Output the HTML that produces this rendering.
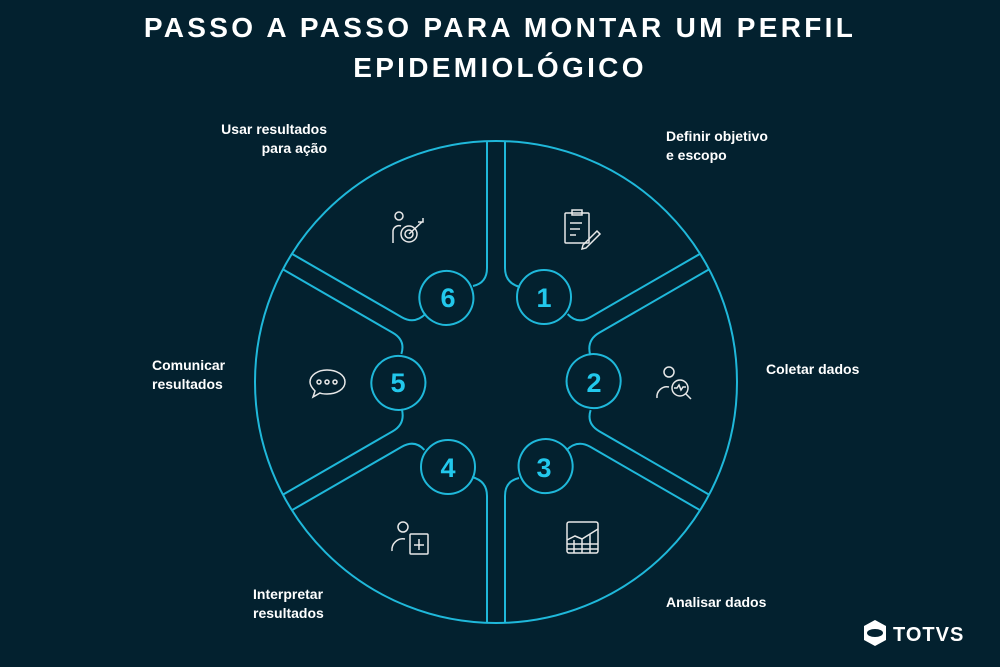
<!DOCTYPE html>
<html><head><meta charset="utf-8"><style>
body{margin:0;width:1000px;height:667px;background:#03212f;overflow:hidden;font-family:"Liberation Sans",sans-serif;position:relative}
.t{position:absolute;left:0;width:1000px;text-align:center;color:#fff;font-weight:bold;font-size:28px;letter-spacing:3.3px;line-height:40px;top:8px}
.l{position:absolute;color:#fff;font-weight:bold;font-size:14px;line-height:19px}
</style></head><body>
<div class="t">PASSO A PASSO PARA MONTAR UM PERFIL<br>EPIDEMIOLÓGICO</div>
<div class="l" style="left:200px;top:120px;width:127px;text-align:right">Usar resultados<br>para ação</div>
<div class="l" style="left:666px;top:127px">Definir objetivo<br>e escopo</div>
<div class="l" style="left:766px;top:360px">Coletar dados</div>
<div class="l" style="left:666px;top:593px">Analisar dados</div>
<div class="l" style="left:253px;top:585px">Interpretar<br>resultados</div>
<div class="l" style="left:152px;top:356px">Comunicar<br>resultados</div>
<svg width="1000" height="667" style="position:absolute;left:0;top:0">
<defs>
<g id="sp" fill="none" stroke="#1fb8da" stroke-width="2">
<path d="M487 141 V268 Q487 283 473 286"/>
<path d="M505 141 V268 Q505 283 520 287"/>
<circle cx="544" cy="297" r="27"/>
</g>
</defs>
<circle cx="496" cy="382" r="241" fill="none" stroke="#1fb8da" stroke-width="2"/>
<use href="#sp"/>
<use href="#sp" transform="rotate(60 496 382)"/>
<use href="#sp" transform="rotate(120 496 382)"/>
<use href="#sp" transform="rotate(180 496 382)"/>
<use href="#sp" transform="rotate(240 496 382)"/>
<use href="#sp" transform="rotate(300 496 382)"/>
<g fill="#22c8ec" font-family="Liberation Sans" font-weight="bold" font-size="27" text-anchor="middle">
<text x="544" y="307">1</text><text x="594" y="392">2</text><text x="544" y="477">3</text>
<text x="448" y="477">4</text><text x="398" y="392">5</text><text x="448" y="307">6</text>
</g>
<g fill="none" stroke="#e8e8e8" stroke-width="1.5">
<rect x="565" y="213" width="24" height="30" rx="1"/><rect x="572" y="210" width="10" height="5"/>
<path d="M570 223h12M570 229h10M570 235h6M583 245l14-14 3 3-14 14-4 1z"/>
<circle cx="399" cy="216" r="4"/><path d="M393 243v-12a6 6 0 0 1 8-5"/><circle cx="409" cy="234" r="8"/><circle cx="409" cy="234" r="4"/><path d="M409 234l13-12M418 222h5v-4"/>
<circle cx="669" cy="372" r="5"/><path d="M657 398a10 10 0 0 1 12-11"/><circle cx="680" cy="388" r="8"/><path d="M674 388h3l2-3 2 5 2-3h3M686 394l5 5"/>
<rect x="567" y="522" width="31" height="31" rx="2"/><path d="M567 544h31M567 549h31M574 540v13M582 538v15M590 534v19M567 540l8-4 7 3 16-10"/>
<circle cx="403" cy="527" r="5"/><path d="M392 551a11 11 0 0 1 13-12"/><rect x="410" y="534" width="18" height="20" rx="1"/><path d="M419 539v11M414 545h10"/>
<path d="M327 370c10 0 18 5 18 12s-8 12-18 12c-3 0-5 0-7-1l-7 4 2-6c-3-3-5-6-5-9 0-7 8-12 17-12z"/>
<circle cx="319" cy="382" r="2"/><circle cx="327" cy="382" r="2"/><circle cx="335" cy="382" r="2"/>
</g>
<path d="M875 620l11 6v14l-11 6-11-6v-14z" fill="#fff"/>
<ellipse cx="875" cy="633" rx="8" ry="4" fill="#03212f"/>
<text x="893" y="641" fill="#fff" font-family="Liberation Sans" font-weight="bold" font-size="20" letter-spacing="1">TOTVS</text>
</svg>
</body></html>
